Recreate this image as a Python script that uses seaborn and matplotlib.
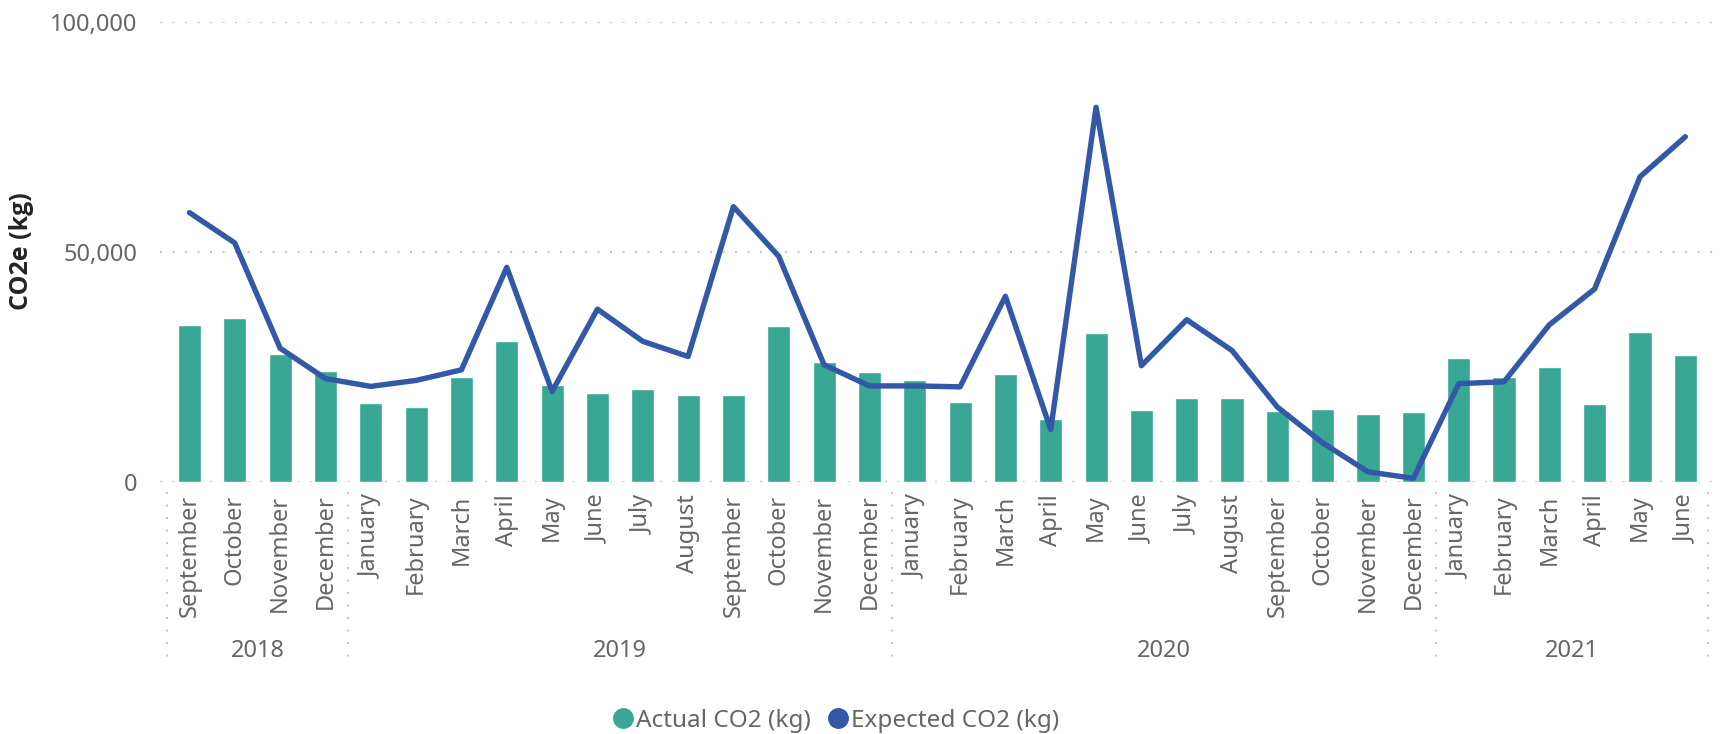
import numpy as np
import pandas as pd
import matplotlib.pyplot as plt
import matplotlib.transforms as mtransforms
from matplotlib.lines import Line2D
from matplotlib.ticker import FuncFormatter
import seaborn as sns

'''DATA'''
months = ["September", "October", "November", "December",
          "January", "February", "March", "April", "May", "June", "July", "August",
          "September", "October", "November", "December",
          "January", "February", "March", "April", "May", "June", "July", "August",
          "September", "October", "November", "December",
          "January", "February", "March", "April", "May", "June"]
years = [2018] * 4 + [2019] * 12 + [2020] * 12 + [2021] * 6
actual_co2 = [34200, 35700, 27900, 24200,
              17200, 16400, 22900, 30700, 21200, 19400, 20300, 19000, 19000, 34000, 26200, 24000,
              22200, 17500, 23600, 13800, 32500, 15700, 18300, 18300, 15500, 15900, 14900, 15300,
              27000, 22900, 25100, 17000, 32700, 27700]
expected_co2 = [58600, 52000, 29100, 22500,
                20800, 22100, 24400, 46700, 19700, 37600, 30600, 27300, 59900, 49100, 25500, 20900,
                20900, 20700, 40400, 11400, 81500, 25300, 35300, 28600, 16300, 8500, 2200, 800,
                21400, 21800, 34200, 42000, 66400, 75100]

df = pd.DataFrame({"idx": np.arange(len(months)), "month": months, "year": years,
                   "actual": actual_co2, "expected": expected_co2})

BAR = "#38A794"
LINE = "#3358A8"
TXT = "#666666"
GRID = "#C8C8C8"
DOTS = (0, (1, 5))

sns.set_theme(style="white")
plt.rcParams['font.family'] = ['Noto Sans', 'DejaVu Sans']

W, H = 1721, 734
fig = plt.figure(figsize=(W / 100, H / 100), dpi=100)
ax = fig.add_axes([160 / W, 1 - 482 / H, (1713 - 160) / W, (482 - 22.3) / H])

'''PLOT'''
sns.barplot(data=df, x="idx", y="actual", color=BAR, width=0.51, saturation=1, ax=ax)
sns.lineplot(data=df, x="idx", y="expected", color=LINE, linewidth=3.9, ax=ax,
             solid_capstyle="round", solid_joinstyle="round")

ax.set_xlim(-0.65, len(months) - 1 + 0.61)
ax.set_ylim(0, 100000)
ax.set_yticks([0, 50000, 100000])
ax.yaxis.set_major_formatter(FuncFormatter(lambda v, p: f"{v:,.0f}"))
ax.set_xticks(df["idx"])
ax.set_xticklabels(months, rotation=90, va="top", ha="center")
ax.tick_params(axis="both", length=0, labelsize=17, colors=TXT)
ax.tick_params(axis="x", pad=9)
ax.tick_params(axis="y", pad=16)
ax.grid(axis="y", color=GRID, linestyle=DOTS, linewidth=1.5)
ax.grid(axis="x", visible=False)
ax.set_axisbelow(True)
sns.despine(ax=ax, left=True, bottom=True)
ax.set_xlabel("")
ax.set_ylabel("")

'''YEAR GROUPS'''
trans = mtransforms.blended_transform_factory(ax.transData, ax.transAxes)
bounds = [-0.5]
for yr in sorted(df["year"].unique()):
    sub = df[df["year"] == yr]["idx"]
    bounds.append(sub.max() + 0.5)
    ax.text((sub.min() + sub.max()) / 2, -0.367, str(yr), transform=trans,
            ha="center", va="center", fontsize=17, color=TXT)
for b in bounds:
    ax.plot([b, b], [-0.022, -0.387], transform=trans, clip_on=False,
            color=GRID, linestyle=DOTS, linewidth=1.5)

'''LABELS AND LEGEND'''
fig.text(21 / W, 1 - 251 / H, "CO2e (kg)", rotation=90, ha="center", va="center",
         fontsize=18, fontweight="bold", color="#252423", family=["Open Sans", "DejaVu Sans"])

handles = [Line2D([], [], marker="o", linestyle="", markersize=14,
                  markerfacecolor=c, markeredgecolor=c) for c in (BAR, LINE)]
fig.legend(handles, ["Actual CO2 (kg)", "Expected CO2 (kg)"], loc="center",
           bbox_to_anchor=(836 / W, 1 - 721 / H), ncol=2, frameon=False, fontsize=17.5,
           handletextpad=0.15, columnspacing=0.7, handlelength=0.8, labelcolor=TXT,
           borderpad=0, borderaxespad=0)

fig.savefig("out.png", dpi=100)
